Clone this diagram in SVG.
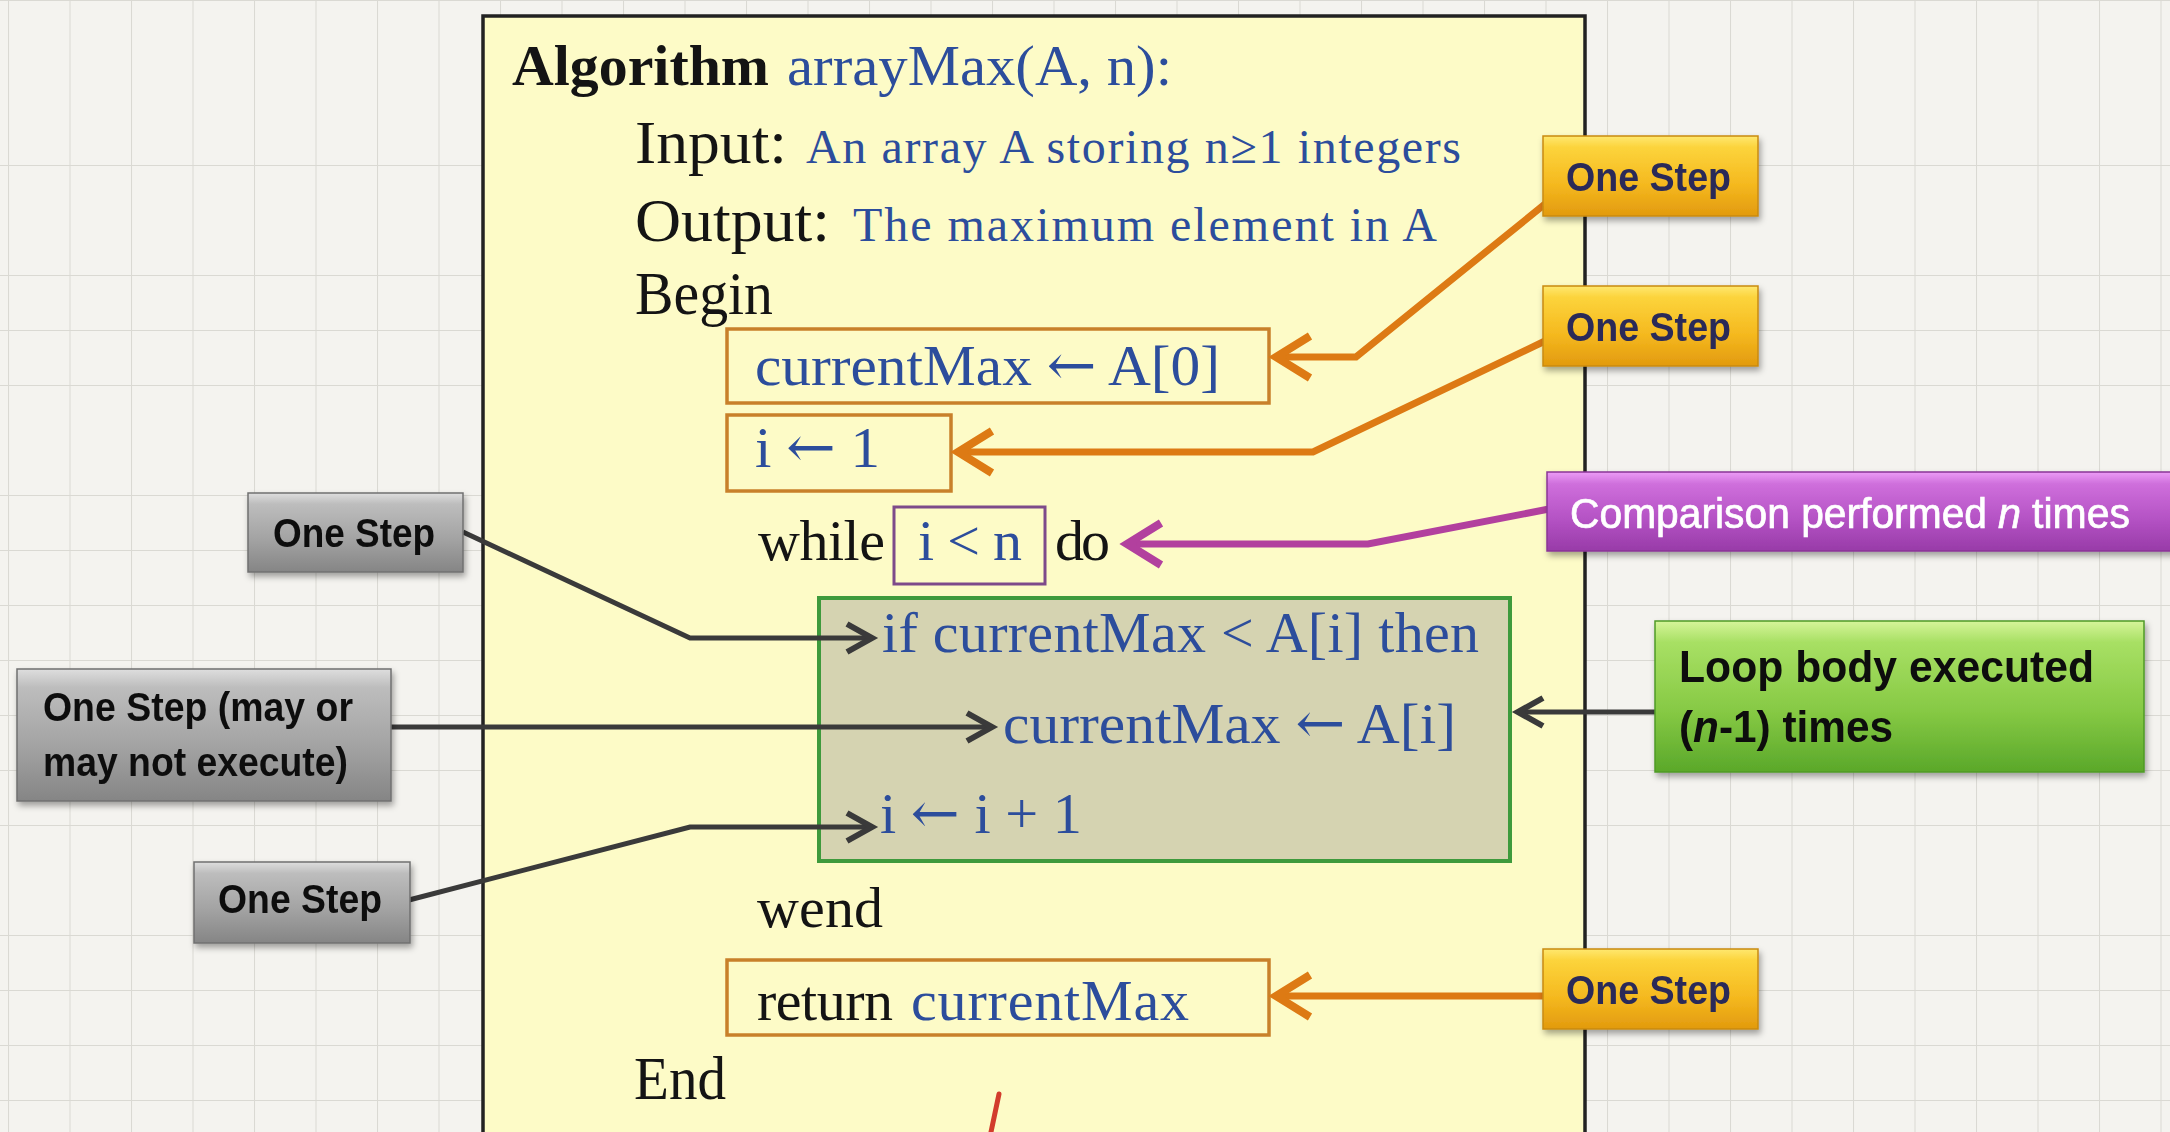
<svg xmlns="http://www.w3.org/2000/svg" width="2170" height="1132" viewBox="0 0 2170 1132">
  <defs>
    <pattern id="grid" x="8" y="0" width="61.5" height="55" patternUnits="userSpaceOnUse">
      <rect width="61.5" height="55" fill="#f4f3ef"/>
      <path d="M0,0 V55 M0,0 H61.5" stroke="#dad9d3" stroke-width="2" fill="none"/>
    </pattern>
    <linearGradient id="gOrange" x1="0" y1="0" x2="0" y2="1">
      <stop offset="0" stop-color="#ffe870"/>
      <stop offset="0.14" stop-color="#fcd43c"/>
      <stop offset="0.6" stop-color="#f5b91f"/>
      <stop offset="1" stop-color="#e29a0e"/>
    </linearGradient>
    <linearGradient id="gGrey" x1="0" y1="0" x2="0" y2="1">
      <stop offset="0" stop-color="#dedede"/>
      <stop offset="0.14" stop-color="#bdbdbd"/>
      <stop offset="0.6" stop-color="#a2a2a2"/>
      <stop offset="1" stop-color="#858585"/>
    </linearGradient>
    <linearGradient id="gPurple" x1="0" y1="0" x2="0" y2="1">
      <stop offset="0" stop-color="#ec9cf6"/>
      <stop offset="0.15" stop-color="#cf6fdc"/>
      <stop offset="0.6" stop-color="#b452c4"/>
      <stop offset="1" stop-color="#983ba8"/>
    </linearGradient>
    <linearGradient id="gGreen" x1="0" y1="0" x2="0" y2="1">
      <stop offset="0" stop-color="#d6f59a"/>
      <stop offset="0.14" stop-color="#a8e064"/>
      <stop offset="0.6" stop-color="#86c944"/>
      <stop offset="1" stop-color="#5aa82a"/>
    </linearGradient>
    <filter id="shadow" x="-10%" y="-20%" width="125%" height="150%">
      <feDropShadow dx="2" dy="4" stdDeviation="3" flood-color="#000" flood-opacity="0.35"/>
    </filter>
    <marker id="arrOrange" markerUnits="userSpaceOnUse" viewBox="-40 -26 44 52" markerWidth="44" markerHeight="52" refX="0" refY="0" orient="auto" overflow="visible">
      <path d="M-34,-21 L0,0 L-34,21" fill="none" stroke="#dd7a14" stroke-width="8"/>
    </marker>
    <marker id="arrPurple" markerUnits="userSpaceOnUse" viewBox="-40 -26 44 52" markerWidth="44" markerHeight="52" refX="0" refY="0" orient="auto" overflow="visible">
      <path d="M-34,-21 L0,0 L-34,21" fill="none" stroke="#b2409e" stroke-width="8"/>
    </marker>
    <marker id="arrDark" markerUnits="userSpaceOnUse" viewBox="-30 -18 34 36" markerWidth="34" markerHeight="36" refX="0" refY="0" orient="auto" overflow="visible">
      <path d="M-25,-14 L0,0 L-25,14" fill="none" stroke="#3a3a3a" stroke-width="6"/>
    </marker>
    <style>
      .serif { font-family: "Liberation Serif", "Times New Roman", serif; }
      .arrow { font-family: "DejaVu Serif", "DejaVu Sans", serif; font-weight: normal; }
      .blk { fill: #141414; }
      .blue { fill: #2c4d9c; }
      .code { font-size: 58px; }
      .big { font-size: 62px; }
      .desc { font-size: 48px; }
      .sans { font-family: "Liberation Sans", Arial, sans-serif; }
      .callout-orange { fill: url(#gOrange); stroke: #c98a12; stroke-width: 1.5; }
      .callout-grey { fill: url(#gGrey); stroke: #707070; stroke-width: 1.5; }
      .lbl-orange { font-size: 40px; font-weight: bold; fill: #2a2a58; }
      .lbl-grey { font-size: 40px; font-weight: bold; fill: #111; }
      .lbl-purple { font-size: 42px; fill: #fff; stroke: #fff; stroke-width: 0.7; }
      .stmt { fill: none; stroke: #c8802a; stroke-width: 3.5; }
      .conn-orange { fill: none; stroke: #dd7a14; stroke-width: 7; marker-end: url(#arrOrange); }
      .conn-purple { fill: none; stroke: #b2409e; stroke-width: 7; marker-end: url(#arrPurple); }
      .conn-dark { fill: none; stroke: #3a3a3a; stroke-width: 5; marker-end: url(#arrDark); }
    </style>
  </defs>

  <!-- grid paper -->
  <rect x="0" y="0" width="2170" height="1132" fill="url(#grid)"/>

  <!-- pseudocode sheet -->
  <g id="sheet">
    <rect x="483" y="16" width="1102" height="1200" fill="#fdfbc7" stroke="#222" stroke-width="3.5"/>
    <text class="serif blk" x="512" y="85" font-size="58" font-weight="bold" textLength="257" lengthAdjust="spacingAndGlyphs">Algorithm</text>
    <text class="serif blue" x="787" y="85" font-size="58" textLength="385" lengthAdjust="spacingAndGlyphs">arrayMax(A, n):</text>
    <text class="serif blk big" x="635" y="163" textLength="152" lengthAdjust="spacingAndGlyphs">Input:</text>
    <text class="serif blue desc" x="806" y="163" textLength="655">An array A storing n≥1 integers</text>
    <text class="serif blk big" x="635" y="241" textLength="195" lengthAdjust="spacingAndGlyphs">Output:</text>
    <text class="serif blue desc" x="853" y="241" textLength="584">The maximum element in A</text>
    <text class="serif blk big" x="635" y="314" textLength="138" lengthAdjust="spacingAndGlyphs">Begin</text>

    <g id="loop-body">
      <rect x="819" y="598" width="691" height="263" fill="#d5d3b1" stroke="#3e9a3c" stroke-width="4"/>
      <text class="serif blue code" x="882" y="652" textLength="597">if currentMax &lt; A[i] then</text>
      <text class="serif blue code" x="1003" y="743" textLength="453" lengthAdjust="spacingAndGlyphs">currentMax <tspan class="arrow">←</tspan> A[i]</text>
      <text class="serif blue code" x="880" y="833" textLength="202" lengthAdjust="spacingAndGlyphs">i <tspan class="arrow">←</tspan> i + 1</text>
    </g>

    <g id="stmt-init-max">
      <rect class="stmt" x="727" y="329" width="542" height="74"/>
      <text class="serif blue code" x="755" y="385" textLength="465" lengthAdjust="spacingAndGlyphs">currentMax <tspan class="arrow">←</tspan> A[0]</text>
    </g>
    <g id="stmt-init-i">
      <rect class="stmt" x="727" y="415" width="224" height="76"/>
      <text class="serif blue code" x="755" y="467" textLength="125" lengthAdjust="spacingAndGlyphs">i <tspan class="arrow">←</tspan> 1</text>
    </g>
    <g id="stmt-while">
      <text class="serif blk code" x="758" y="560" textLength="127">while</text>
      <rect x="894" y="507" width="151" height="77" fill="none" stroke="#7d4a8a" stroke-width="3"/>
      <text class="serif blue code" x="918" y="560" textLength="104">i &lt; n</text>
      <text class="serif blk code" x="1055" y="560" textLength="55">do</text>
    </g>
    <text class="serif blk code" x="757" y="927" textLength="126">wend</text>
    <g id="stmt-return">
      <rect class="stmt" x="727" y="960" width="542" height="75"/>
      <text class="serif blk code" x="757" y="1020" textLength="136">return</text>
      <text class="serif blue code" x="911" y="1020" textLength="278">currentMax</text>
    </g>
    <text class="serif blk big" x="634" y="1099" textLength="92" lengthAdjust="spacingAndGlyphs">End</text>
    <!-- pen stroke -->
    <path d="M999,1094 L991,1132" stroke="#d23c2c" stroke-width="5" fill="none" stroke-linecap="round"/>
  </g>

  <!-- connectors -->
  <g id="connectors">
    <path class="conn-orange" d="M1545,204 L1356,357 L1276,357"/>
    <path class="conn-orange" d="M1545,341 L1313,452 L958,452"/>
    <path class="conn-purple" d="M1549,509 L1368,544 L1127,544"/>
    <path class="conn-orange" d="M1545,996 L1276,996"/>
    <path class="conn-dark" d="M463,532 L690,638 L872,638"/>
    <path class="conn-dark" d="M391,727 L992,727"/>
    <path class="conn-dark" d="M409,900 L690,827 L872,827"/>
    <path class="conn-dark" d="M1655,712 L1518,712"/>
  </g>

  <!-- callouts on the right -->
  <g id="step-init-max" filter="url(#shadow)">
    <rect class="callout-orange" x="1543" y="136" width="215" height="80"/>
    <text class="sans lbl-orange" x="1566" y="191" textLength="165" lengthAdjust="spacingAndGlyphs">One Step</text>
  </g>
  <g id="step-init-i" filter="url(#shadow)">
    <rect class="callout-orange" x="1543" y="286" width="215" height="80"/>
    <text class="sans lbl-orange" x="1566" y="341" textLength="165" lengthAdjust="spacingAndGlyphs">One Step</text>
  </g>
  <g id="comparison" filter="url(#shadow)">
    <rect x="1547" y="472" width="640" height="79" fill="url(#gPurple)" stroke="#8a3496" stroke-width="1.5"/>
    <text class="sans lbl-purple" x="1570" y="528" textLength="417" lengthAdjust="spacingAndGlyphs">Comparison performed</text>
    <text class="sans lbl-purple" x="1998" y="528" font-style="italic" textLength="23" lengthAdjust="spacingAndGlyphs">n</text>
    <text class="sans lbl-purple" x="2032" y="528" textLength="98" lengthAdjust="spacingAndGlyphs">times</text>
  </g>
  <g id="loop-count" filter="url(#shadow)">
    <rect x="1655" y="621" width="489" height="151" fill="url(#gGreen)" stroke="#4f9a26" stroke-width="1.5"/>
    <text class="sans" x="1679" y="682" font-size="44" font-weight="bold" fill="#0e0e0e" textLength="415" lengthAdjust="spacingAndGlyphs">Loop body executed</text>
    <text class="sans" x="1679" y="742" font-size="44" font-weight="bold" fill="#0e0e0e" textLength="214" lengthAdjust="spacingAndGlyphs">(<tspan font-style="italic">n</tspan>-1) times</text>
  </g>
  <g id="step-return" filter="url(#shadow)">
    <rect class="callout-orange" x="1543" y="949" width="215" height="80"/>
    <text class="sans lbl-orange" x="1566" y="1004" textLength="165" lengthAdjust="spacingAndGlyphs">One Step</text>
  </g>

  <!-- callouts on the left -->
  <g id="step-compare" filter="url(#shadow)">
    <rect class="callout-grey" x="248" y="493" width="215" height="79"/>
    <text class="sans lbl-grey" x="273" y="547" textLength="162" lengthAdjust="spacingAndGlyphs">One Step</text>
  </g>
  <g id="step-assign" filter="url(#shadow)">
    <rect class="callout-grey" x="17" y="669" width="374" height="132"/>
    <text class="sans lbl-grey" x="43" y="721" font-size="37" textLength="310" lengthAdjust="spacingAndGlyphs">One Step (may or</text>
    <text class="sans lbl-grey" x="43" y="776" font-size="37" textLength="305" lengthAdjust="spacingAndGlyphs">may not execute)</text>
  </g>
  <g id="step-increment" filter="url(#shadow)">
    <rect class="callout-grey" x="194" y="862" width="216" height="81"/>
    <text class="sans lbl-grey" x="218" y="913" textLength="164" lengthAdjust="spacingAndGlyphs">One Step</text>
  </g>
</svg>
